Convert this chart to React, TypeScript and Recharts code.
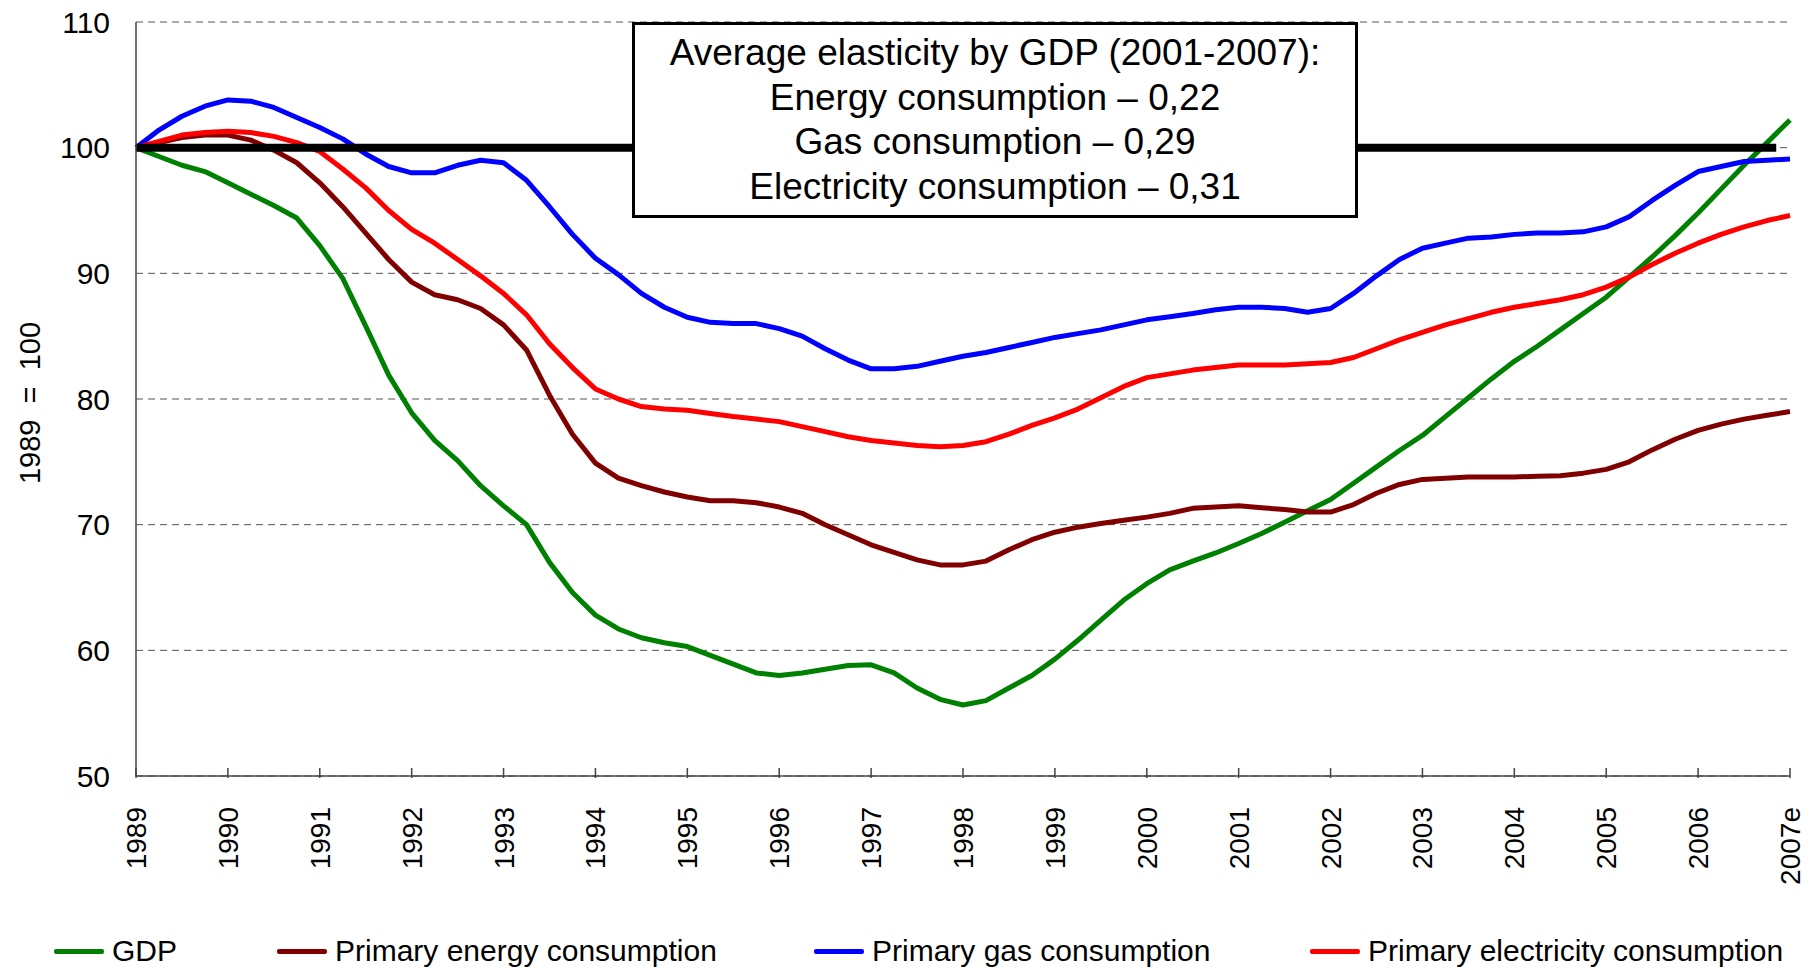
import React from "react";
import { LineChart, Line, XAxis, YAxis, CartesianGrid, ReferenceLine } from "recharts";

// quarterly index values, 1989 = 100
const yearTicks = [1989, 1990, 1991, 1992, 1993, 1994, 1995, 1996, 1997, 1998, 1999, 2000, 2001, 2002, 2003, 2004, 2005, 2006, 2007];
const yearLabels = ["1989", "1990", "1991", "1992", "1993", "1994", "1995", "1996", "1997", "1998", "1999", "2000", "2001", "2002", "2003", "2004", "2005", "2006", "2007e"];
const yTicks = [50, 60, 70, 80, 90, 100, 110];

const gdp = [
	100, 99.3, 98.6, 98.1,
	97.2, 96.3, 95.4, 94.4,
	92.2, 89.6, 85.8, 81.9,
	78.9, 76.7, 75.1, 73.1,
	71.5, 70.0, 67.0, 64.6,
	62.8, 61.7, 61.0, 60.6,
	60.3, 59.6, 58.9, 58.2,
	58.0, 58.2, 58.5, 58.8,
	58.85, 58.2, 57.0, 56.1,
	55.65, 56.0, 57.0, 58.0,
	59.3, 60.8, 62.4, 64.0,
	65.3, 66.4, 67.1, 67.75,
	68.5, 69.3, 70.2, 71.1,
	72.0, 73.3, 74.6, 75.9,
	77.1, 78.6, 80.1, 81.6,
	83.0, 84.2, 85.5, 86.8,
	88.1, 89.7, 91.3, 93.0,
	94.8, 96.7, 98.6, 100.4,
	102.2,
];

const energy = [
	100, 100.4, 100.8, 101.0,
	101.0, 100.6, 99.8, 98.8,
	97.2, 95.3, 93.2, 91.1,
	89.3, 88.3, 87.9, 87.2,
	85.9, 83.9, 80.3, 77.2,
	74.9, 73.7, 73.1, 72.6,
	72.2, 71.9, 71.9, 71.75,
	71.4, 70.9, 70.0, 69.2,
	68.4, 67.8, 67.2, 66.8,
	66.8, 67.1, 68.0, 68.8,
	69.4, 69.8, 70.1, 70.35,
	70.6, 70.9, 71.3, 71.4,
	71.5, 71.35, 71.2, 71.0,
	71.0, 71.6, 72.5, 73.2,
	73.6, 73.7, 73.8, 73.8,
	73.8, 73.85, 73.9, 74.1,
	74.4, 75.0, 75.95, 76.8,
	77.5, 78.0, 78.4, 78.7,
	79.0,
];

const gas = [
	100, 101.4, 102.5, 103.3,
	103.8, 103.7, 103.2, 102.4,
	101.6, 100.7, 99.5, 98.5,
	98.0, 98.0, 98.6, 99.0,
	98.8, 97.4, 95.3, 93.1,
	91.2, 89.9, 88.4, 87.3,
	86.5, 86.1, 86.0, 86.0,
	85.6, 85.0, 84.0, 83.1,
	82.4, 82.4, 82.6, 83.0,
	83.4, 83.7, 84.1, 84.5,
	84.9, 85.2, 85.5, 85.9,
	86.3, 86.55, 86.8, 87.1,
	87.3, 87.3, 87.2, 86.9,
	87.2, 88.4, 89.8, 91.1,
	92.0, 92.4, 92.8, 92.9,
	93.1, 93.2, 93.2, 93.3,
	93.7, 94.5, 95.8, 97.0,
	98.1, 98.5, 98.9, 99.0,
	99.1,
];

const electricity = [
	100, 100.5, 101.0, 101.2,
	101.3, 101.2, 100.9, 100.4,
	99.7, 98.3, 96.8, 95.0,
	93.5, 92.4, 91.1, 89.8,
	88.4, 86.7, 84.4, 82.5,
	80.8, 80.0, 79.4, 79.2,
	79.1, 78.85, 78.6, 78.4,
	78.2, 77.8, 77.4, 77.0,
	76.7, 76.5, 76.3, 76.2,
	76.3, 76.6, 77.2, 77.9,
	78.5, 79.2, 80.1, 81.0,
	81.7, 82.0, 82.3, 82.5,
	82.7, 82.7, 82.7, 82.8,
	82.9, 83.3, 84.0, 84.7,
	85.3, 85.9, 86.4, 86.9,
	87.3, 87.6, 87.9, 88.3,
	88.9, 89.7, 90.7, 91.6,
	92.4, 93.1, 93.7, 94.2,
	94.6,
];

const boxLines = [
	"Average elasticity by GDP (2001-2007):",
	"Energy consumption \u2013 0,22",
	"Gas consumption \u2013 0,29",
	"Electricity consumption \u2013 0,31",
];

const series = [
	{ key: "gdp", name: "GDP", color: "#008000" },
	{ key: "energy", name: "Primary energy consumption", color: "#800000" },
	{ key: "gas", name: "Primary gas consumption", color: "#0000FF" },
	{ key: "electricity", name: "Primary electricity consumption", color: "#FF0000" },
];
const legendLeft = [54, 277, 814, 1310];

const chartData = gdp.map((v, i) => ({
	period: 1989 + i / 4,
	gdp: v,
	energy: energy[i],
	gas: gas[i],
	electricity: electricity[i],
}));

const FONT = "'Liberation Sans', Arial, sans-serif";

const YearTick = (props: any) => {
	const { x, y, payload } = props;
	const label = yearLabels[yearTicks.indexOf(payload.value)];
	return (
		<g transform={`translate(${x},${y})`}>
			<line x1={0} x2={0} y1={0} y2={-10} stroke="#444" strokeWidth={1.5} />
			<text transform="rotate(-90)" x={-29} y={10} textAnchor="end" fontSize={28} fontFamily={FONT} fill="#000">
				{label}
			</text>
		</g>
	);
};

const YLabel = (props: any) => {
	const { viewBox } = props;
	const cy = viewBox.y + viewBox.height / 2 + 4;
	return (
		<text
			transform={`translate(40,${cy}) rotate(-90)`}
			textAnchor="middle"
			fontSize={29}
			fontFamily={FONT}
			fill="#000"
			style={{ whiteSpace: "pre" }}
		>
			{"1989  =  100"}
		</text>
	);
};

export default function App() {
	return (
		<div style={{ position: "absolute", left: 0, top: 0, width: 1809, height: 968, background: "#fff", fontFamily: FONT }}>
			<LineChart width={1809} height={968} data={chartData} margin={{ top: 22, right: 19, left: 0, bottom: 0 }}>
				<CartesianGrid vertical={false} stroke="#555" strokeDasharray="7 5" />
				<XAxis
					dataKey="period"
					type="number"
					domain={[1989, 2007]}
					ticks={yearTicks}
					interval={0}
					height={192}
					tickSize={0}
					tick={<YearTick />}
					axisLine={{ stroke: "#444", strokeWidth: 1.5 }}
				/>
				<YAxis
					type="number"
					domain={[50, 110]}
					ticks={yTicks}
					width={136}
					tickSize={0}
					tickMargin={26}
					tick={{ fontSize: 30, fill: "#000", fontFamily: FONT }}
					axisLine={{ stroke: "#444", strokeWidth: 1.5 }}
					label={<YLabel />}
				/>
				{series.map((s) => (
					<Line
						key={s.key}
						dataKey={s.key}
						name={s.name}
						type="linear"
						stroke={s.color}
						strokeWidth={5}
						strokeLinejoin="round"
						dot={false}
						isAnimationActive={false}
					/>
				))}
				<ReferenceLine
					segment={[{ x: 1989, y: 100 }, { x: 2006.85, y: 100 }]}
					stroke="#000"
					strokeWidth={8}
					ifOverflow="visible"
				/>
			</LineChart>

			<div
				style={{
					position: "absolute",
					left: 632,
					top: 22,
					width: 726,
					height: 196,
					boxSizing: "border-box",
					border: "3px solid #000",
					background: "#fff",
					textAlign: "center",
					fontSize: 37,
					lineHeight: "44.5px",
					paddingTop: 6,
					color: "#000",
				}}
			>
				{boxLines.map((l) => (
					<div key={l}>{l}</div>
				))}
			</div>

			{series.map((s, i) => (
				<div
					key={s.key}
					style={{
						position: "absolute",
						left: legendLeft[i],
						top: 934,
						height: 34,
						display: "flex",
						alignItems: "center",
						fontSize: 30,
						color: "#000",
						whiteSpace: "nowrap",
					}}
				>
					<div style={{ width: 50, height: 5, background: s.color, borderRadius: 2, marginRight: 8 }} />
					<span>{s.name}</span>
				</div>
			))}
		</div>
	);
}
